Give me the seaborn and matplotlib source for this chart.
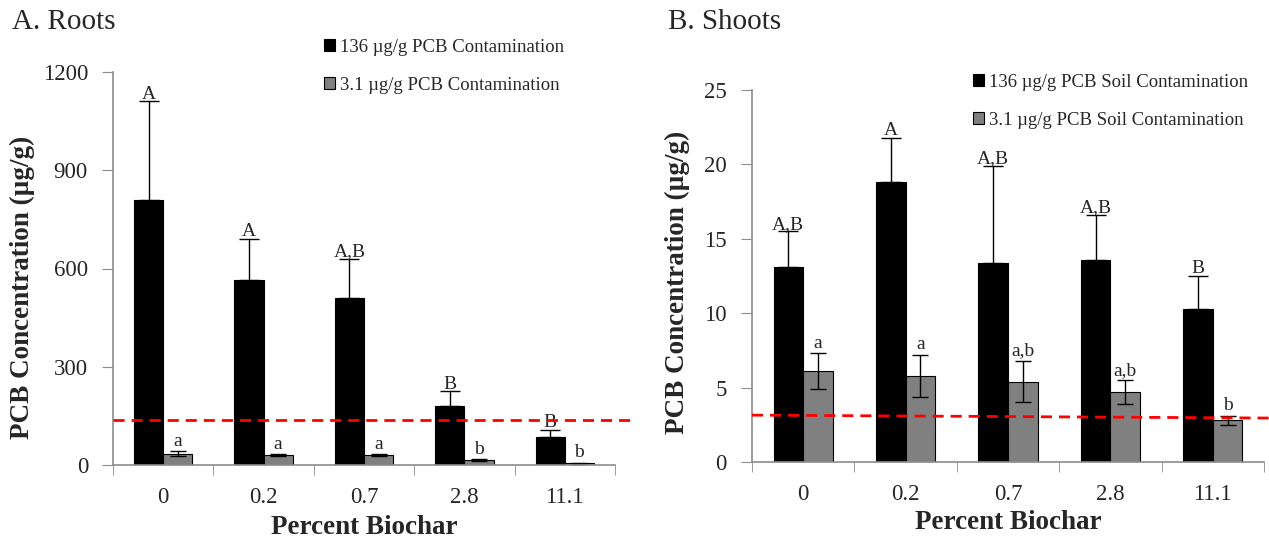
import numpy as np
import pandas as pd
import matplotlib
matplotlib.use("Agg")
import matplotlib.pyplot as plt
import seaborn as sns

# ---------------- data ----------------
biochar = ["0", "0.2", "0.7", "2.8", "11.1"]

roots_high = [810, 565, 510, 180, 85]
roots_high_err = [300, 125, 120, 45, 23]
roots_low = [35, 30, 30, 15, 5]
roots_low_err = [8, 3, 3, 3, 2]
roots_high_letters = ["A", "A", "A,B", "B", "B"]
roots_low_letters = ["a", "a", "a", "b", "b"]

shoots_high = [13.1, 18.8, 13.4, 13.6, 10.3]
shoots_high_err = [2.4, 3.0, 6.5, 3.0, 2.2]
shoots_low = [6.1, 5.8, 5.4, 4.7, 2.8]
shoots_low_err = [1.2, 1.4, 1.4, 0.8, 0.3]
shoots_high_letters = ["A,B", "A", "A,B", "A,B", "B"]
shoots_low_letters = ["a", "a", "a,b", "a,b", "b"]

roots_labels = ["136 µg/g PCB Contamination", "3.1 µg/g PCB Contamination"]
shoots_labels = ["136 µg/g PCB Soil Contamination", "3.1 µg/g PCB Soil Contamination"]

roots_threshold = [136, 136]
shoots_threshold = [3.15, 2.95]

# ---------------- style ----------------
sns.set_style("white")
plt.rcParams["font.family"] = ["Liberation Serif", "DejaVu Serif"]

fig = plt.figure(figsize=(12.69, 5.44), dpi=100)
ax1 = fig.add_axes([113 / 1269, 1 - 465 / 544, 502 / 1269, (465 - 72) / 544])
ax2 = fig.add_axes([752 / 1269, 1 - 462 / 544, 512 / 1269, (462 - 90) / 544])

palette = {"high": "#000000", "low": "#808080"}


def panel(ax, high, high_err, low, low_err, hl, ll, labels, ymax, ystep,
          thresh, leg_anchor, labelspacing, ylab_xy, xlab_y):
    df = pd.DataFrame({
        "biochar": biochar * 2,
        "value": list(high) + list(low),
        "series": [labels[0]] * len(biochar) + [labels[1]] * len(biochar),
    })
    sns.barplot(data=df, x="biochar", y="value", hue="series", order=biochar,
                hue_order=labels,
                palette={labels[0]: palette["high"], labels[1]: palette["low"]},
                width=0.58, errorbar=None, edgecolor="black", linewidth=0.8,
                saturation=1, ax=ax)
    n = len(biochar)
    patches = list(ax.patches)[:2 * n]
    xs_h = [p.get_x() + p.get_width() / 2 for p in patches[:n]]
    xs_l = [p.get_x() + p.get_width() / 2 for p in patches[n:2 * n]]
    ax.errorbar(xs_h, high, yerr=[np.zeros(n), high_err], fmt="none",
                ecolor="black", elinewidth=1.0, capsize=7, capthick=1.0)
    ax.errorbar(xs_l, low, yerr=[low_err, low_err], fmt="none",
                ecolor="black", elinewidth=1.0, capsize=6, capthick=1.0)
    for x, v, e, t in zip(xs_h, high, high_err, hl):
        ax.annotate(t, (x, v + e), xytext=(0, -1), textcoords="offset points",
                    ha="center", va="bottom", fontsize=14)
    for x, v, e, t in zip(xs_l, low, low_err, ll):
        ax.annotate(t, (x, v + e), xytext=(0, 1), textcoords="offset points",
                    ha="center", va="bottom", fontsize=14)

    ax.plot([-0.5, 4.65], thresh, ls=(0, (4, 2.5)), color="#ff0000", lw=2,
            clip_on=False, zorder=5)

    ax.set_xlim(-0.5, 4.5)
    ax.set_ylim(0, ymax)
    ax.set_yticks(np.arange(0, ymax + ystep / 2, ystep))
    ax.set_xticks(range(n))
    ax.set_xticklabels(biochar)
    ax.set_xticks(np.arange(-0.5, n, 1), minor=True)
    ax.tick_params(axis="x", which="major", length=0, pad=16, labelsize=16.5)
    ax.tick_params(axis="x", which="minor", length=7, color="#8c8c8c",
                   direction="out", bottom=True)
    ax.tick_params(axis="y", which="major", length=8, color="#8c8c8c",
                   direction="out", left=True, labelsize=16.5, pad=10)
    for s in ["top", "right"]:
        ax.spines[s].set_visible(False)
    for s in ["left", "bottom"]:
        ax.spines[s].set_color("#8c8c8c")
        ax.spines[s].set_linewidth(1.2)
    ax.set_xlabel("Percent Biochar", fontsize=19.5, fontweight="bold")
    ax.set_ylabel("PCB Concentration (µg/g)", fontsize=19.5, fontweight="bold")
    ax.yaxis.set_label_coords(*ylab_xy)
    ax.xaxis.set_label_coords(0.5, xlab_y)
    sns.move_legend(ax, "upper left", bbox_to_anchor=leg_anchor,
                    bbox_transform=fig.transFigure, frameon=False, title=None,
                    fontsize=13.5, handlelength=0.6, handleheight=0.6,
                    handletextpad=0.25, labelspacing=labelspacing,
                    borderpad=0, borderaxespad=0)


panel(ax1, roots_high, roots_high_err, roots_low, roots_low_err,
      roots_high_letters, roots_low_letters, roots_labels, 1200, 300,
      roots_threshold, (324 / 1269, 1 - 39 / 544), 1.1,
      (-0.155, 0.453), -0.127)
panel(ax2, shoots_high, shoots_high_err, shoots_low, shoots_low_err,
      shoots_high_letters, shoots_low_letters, shoots_labels, 25, 5,
      shoots_threshold, (973 / 1269, 1 - 74 / 544), 1.1,
      (-0.121, 0.484), -0.128)

fig.text(12 / 1269, 1 - 22 / 544, "A. Roots", fontsize=21, va="center", ha="left")
fig.text(668 / 1269, 1 - 22 / 544, "B. Shoots", fontsize=21, va="center", ha="left")

fig.savefig("out.png", dpi=100)
